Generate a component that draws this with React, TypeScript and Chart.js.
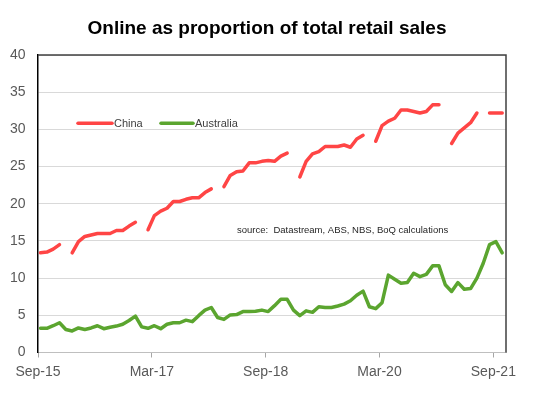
import React, { useEffect, useRef } from 'react';
import { Chart, registerables } from 'chart.js';

Chart.register(...registerables);

const months = [
  'Sep-15', 'Oct-15', 'Nov-15', 'Dec-15',
  'Jan-16', 'Feb-16', 'Mar-16', 'Apr-16', 'May-16', 'Jun-16', 'Jul-16', 'Aug-16', 'Sep-16', 'Oct-16', 'Nov-16', 'Dec-16',
  'Jan-17', 'Feb-17', 'Mar-17', 'Apr-17', 'May-17', 'Jun-17', 'Jul-17', 'Aug-17', 'Sep-17', 'Oct-17', 'Nov-17', 'Dec-17',
  'Jan-18', 'Feb-18', 'Mar-18', 'Apr-18', 'May-18', 'Jun-18', 'Jul-18', 'Aug-18', 'Sep-18', 'Oct-18', 'Nov-18', 'Dec-18',
  'Jan-19', 'Feb-19', 'Mar-19', 'Apr-19', 'May-19', 'Jun-19', 'Jul-19', 'Aug-19', 'Sep-19', 'Oct-19', 'Nov-19', 'Dec-19',
  'Jan-20', 'Feb-20', 'Mar-20', 'Apr-20', 'May-20', 'Jun-20', 'Jul-20', 'Aug-20', 'Sep-20', 'Oct-20', 'Nov-20', 'Dec-20',
  'Jan-21', 'Feb-21', 'Mar-21', 'Apr-21', 'May-21', 'Jun-21', 'Jul-21', 'Aug-21', 'Sep-21', 'Oct-21',
];

const tickMonths = ['Sep-15', 'Mar-17', 'Sep-18', 'Mar-20', 'Sep-21'];

const china: (number | null)[] = [
  13.4, 13.5, 13.9, 14.5,
  null, 13.4, 14.9, 15.6, 15.8, 16.0, 16.0, 16.0, 16.4, 16.4, 17.0, 17.5,
  null, 16.5, 18.4, 19.0, 19.4, 20.3, 20.3, 20.6, 20.8, 20.8, 21.5, 22.0,
  null, 22.3, 23.8, 24.3, 24.4, 25.5, 25.5, 25.7, 25.8, 25.7, 26.4, 26.8,
  null, 23.6, 25.7, 26.7, 27.0, 27.7, 27.7, 27.7, 27.9, 27.6, 28.7, 29.2,
  null, 28.4, 30.5, 31.1, 31.5, 32.6, 32.6, 32.4, 32.2, 32.4, 33.3, 33.3,
  null, 28.1, 29.5, 30.2, 30.9, 32.2, null, 32.2, 32.2, 32.2,
];

const australia: number[] = [
  3.25, 3.25, 3.6, 4.0,
  3.1, 2.9, 3.3, 3.1, 3.3, 3.6, 3.2, 3.4, 3.55, 3.8, 4.3, 4.9,
  3.45, 3.25, 3.6, 3.2, 3.8, 4.0, 4.0, 4.35, 4.15, 4.95, 5.7, 6.05,
  4.7, 4.45, 5.05, 5.1, 5.5, 5.5, 5.55, 5.7, 5.5, 6.3, 7.15, 7.15,
  5.7, 4.95, 5.6, 5.4, 6.15, 6.05, 6.05, 6.25, 6.5, 6.95, 7.7, 8.25,
  6.15, 5.9, 6.7, 10.4, 9.85, 9.3, 9.4, 10.65, 10.2, 10.5, 11.65, 11.65,
  9.1, 8.2, 9.4, 8.5, 8.6, 10.0, 12.0, 14.5, 14.9, 13.4,
];

const seriesNames = ['China', 'Australia'];
const titleText = 'Online as proportion of total retail sales';
const sourceText = 'source:  Datastream, ABS, NBS, BoQ calculations';

const RED = '#ff4545';
const GREEN = '#5ba52f';
const POINT_OFFSET = 0.4;

const overlayPlugin = {
  id: 'overlay',
  afterDraw(chart: any) {
    const { ctx, chartArea } = chart;
    ctx.save();
    // frame top and right
    ctx.strokeStyle = '#404040';
    ctx.lineWidth = 1.5;
    ctx.beginPath();
    ctx.moveTo(chartArea.left, chartArea.top);
    ctx.lineTo(chartArea.right, chartArea.top);
    ctx.lineTo(chartArea.right, chartArea.bottom);
    ctx.stroke();

    // title
    ctx.fillStyle = '#000000';
    ctx.font = 'bold 19px "Liberation Sans", Arial, sans-serif';
    ctx.textAlign = 'center';
    ctx.textBaseline = 'middle';
    ctx.fillText(titleText, 267, 29);

    // legend
    const legendItems = [
      { name: seriesNames[0], color: RED, x0: 78, x1: 112 },
      { name: seriesNames[1], color: GREEN, x0: 161, x1: 193 },
    ];
    ctx.font = '11px "Liberation Sans", Arial, sans-serif';
    ctx.textAlign = 'left';
    legendItems.forEach((it) => {
      ctx.strokeStyle = it.color;
      ctx.lineWidth = 3.5;
      ctx.lineCap = 'round';
      ctx.beginPath();
      ctx.moveTo(it.x0, 123.3);
      ctx.lineTo(it.x1, 123.3);
      ctx.stroke();
      ctx.fillStyle = '#404040';
      ctx.fillText(it.name, it.x1 + 2, 123.5);
    });

    // source
    ctx.font = '9.5px "Liberation Sans", Arial, sans-serif';
    ctx.fillStyle = '#262626';
    ctx.fillText(sourceText, 237, 230.5);
    ctx.restore();
  },
};

export default function App() {
  const ref = useRef<HTMLCanvasElement | null>(null);

  useEffect(() => {
    if (!ref.current) return;
    const toPoints = (arr: (number | null)[]) =>
      arr.map((v, i) => ({ x: i + POINT_OFFSET, y: v }));

    const chart = new Chart(ref.current, {
      type: 'line',
      data: {
        datasets: [
          {
            label: seriesNames[0],
            data: toPoints(china) as any,
            borderColor: RED,
            backgroundColor: RED,
            borderWidth: 3.5,
            pointRadius: 0,
            spanGaps: false,
            tension: 0,
            borderCapStyle: 'round',
            borderJoinStyle: 'round',
          },
          {
            label: seriesNames[1],
            data: toPoints(australia) as any,
            borderColor: GREEN,
            backgroundColor: GREEN,
            borderWidth: 3.5,
            pointRadius: 0,
            tension: 0,
            borderCapStyle: 'round',
            borderJoinStyle: 'round',
          },
        ],
      },
      options: {
        responsive: false,
        animation: false,
        events: [],
        layout: { padding: { left: 0, right: 27, top: 55, bottom: 0 } },
        plugins: {
          legend: { display: false },
          title: { display: false },
          tooltip: { enabled: false },
        },
        scales: {
          x: {
            type: 'linear',
            min: 0,
            max: 74,
            afterBuildTicks: (scale: any) => {
              scale.ticks = tickMonths.map((m) => ({ value: months.indexOf(m) }));
            },
            afterFit: (scale: any) => {
              scale.height = 41.5;
            },
            ticks: {
              autoSkip: false,
              maxRotation: 0,
              padding: 6,
              color: '#595959',
              font: { family: '"Liberation Sans", Arial, sans-serif', size: 14 },
              callback: (v: any) => months[Math.round(Number(v))] ?? '',
            },
            grid: {
              drawOnChartArea: false,
              drawTicks: true,
              tickLength: 5,
              color: '#a6a6a6',
            },
            border: { display: true, color: '#bfbfbf', width: 1 },
          },
          y: {
            min: 0,
            max: 40,
            afterFit: (scale: any) => {
              scale.width = 38;
            },
            ticks: {
              stepSize: 5,
              padding: 12.5,
              color: '#595959',
              font: { family: '"Liberation Sans", Arial, sans-serif', size: 14 },
            },
            grid: { color: '#d9d9d9', drawTicks: false, lineWidth: 1 },
            border: { display: true, color: '#000000', width: 1.5 },
          },
        },
      },
      plugins: [overlayPlugin],
    });
    return () => chart.destroy();
  }, []);

  return (
    <div style={{ position: 'fixed', left: 0, top: 0, width: 533, height: 394, background: '#fff' }}>
      <canvas ref={ref} width={533} height={394} />
    </div>
  );
}
